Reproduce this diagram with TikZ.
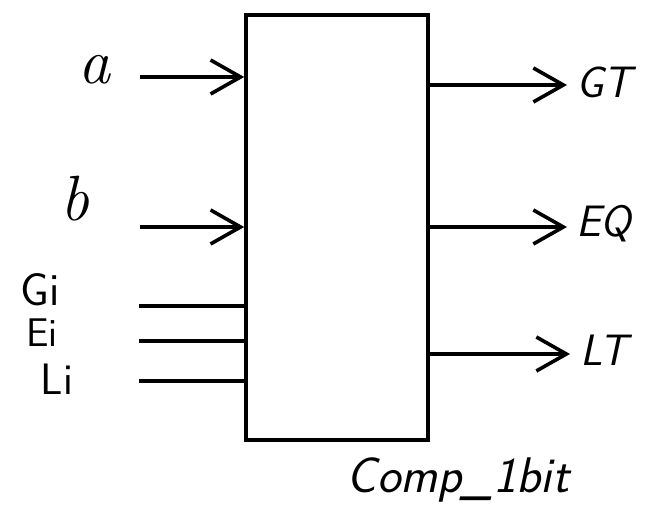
\documentclass[tikz,border=0pt]{standalone}
\usetikzlibrary{arrows.meta}
\begin{document}
\begin{tikzpicture}[x=1pt,y=-1pt,
  wire/.style={line width=3.6pt},
  arr/.style={line width=3.6pt,-{Straight Barb[length=30pt,width=34pt,line width=3.6pt]}},
  lbl/.style={font=\itshape\fontsize{64}{66}\selectfont,inner sep=0pt},
  slbl/.style={font=\sffamily\fontsize{46}{48}\selectfont,inner sep=0pt},
  olbl/.style={font=\sffamily\itshape\fontsize{44}{46}\selectfont,inner sep=0pt}]
\useasboundingbox (0,0) rectangle (650,526);
\node[draw,line width=3.6pt,minimum width=182pt,minimum height=425pt,inner sep=0pt] (box) at (337,227.5) {};
% left labels
\node[lbl] (la) at (94,70) {a};
\node[lbl] (lb) at (75,199) {b};
\node[slbl] (lgi) at (40,290) {Gi};
\node[slbl,font=\sffamily\fontsize{40}{42}\selectfont] (lei) at (42,333) {Ei};
\node[slbl,font=\sffamily\fontsize{44}{46}\selectfont] (lli) at (57,379) {Li};
% input start points
\coordinate (sa) at (140,77);
\coordinate (sb) at (140,227);
\coordinate (sg) at (139,306);
\coordinate (se) at (139,341);
\coordinate (sl) at (139,381);
\draw[arr] (sa) -- (sa -| box.west);
\draw[arr] (sb) -- (sb -| box.west);
\draw[wire] (sg) -- (sg -| box.west);
\draw[wire] (se) -- (se -| box.west);
\draw[wire] (sl) -- (sl -| box.west);
% outputs
\node[olbl,anchor=west] (lgt) at (576,82) {GT};
\node[olbl,anchor=west] (leq) at (576,224) {EQ};
\node[olbl,anchor=west] (llt) at (580,350) {LT};
\coordinate (eg) at (567,85);
\coordinate (ee) at (567,227);
\coordinate (el) at (570,354);
\draw[arr] (eg -| box.east) -- (eg);
\draw[arr] (ee -| box.east) -- (ee);
\draw[arr] (el -| box.east) -- (el);
\node[olbl,font=\sffamily\itshape\fontsize{50}{52}\selectfont] (name) at (458,480) {Comp\_1bit};
\end{tikzpicture}
\end{document}
